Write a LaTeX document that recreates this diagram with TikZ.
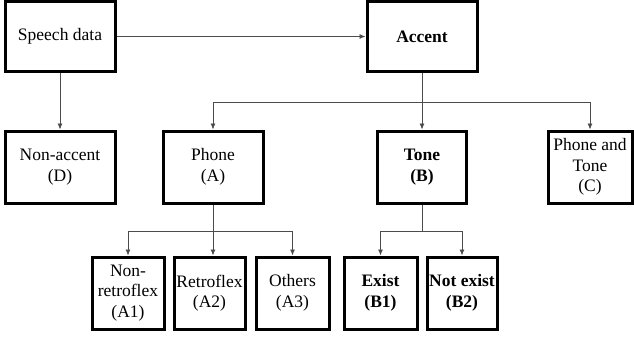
\documentclass[tikz,border=0pt]{standalone}
\usepackage{fontspec}
\setmainfont{Liberation Serif}
\usetikzlibrary{arrows.meta}
\begin{document}
\begin{tikzpicture}[x=1pt,y=-1pt,
 box/.style={draw, line width=3pt, inner sep=0pt, align=center, font=\fontsize{17.5}{20.5}\selectfont, minimum height=70pt},
 conn/.style={draw=black!70, line width=0.8pt},
 arr/.style={conn, -{Latex[length=6pt,width=5pt]}}]
\useasboundingbox[fill=white] (0,0) rectangle (634,338);
\node[box, minimum width=110pt] (sd) at (60,36.5) {Speech data};
\node[box, minimum width=110pt] (acc) at (422,36.5) {\textbf{Accent}};
\node[box, minimum width=110pt, minimum height=72pt] (na) at (60,167) {Non-accent\\(D)};
\node[box, minimum width=100pt, minimum height=72pt] (ph) at (213,167) {Phone\\(A)};
\node[box, minimum width=89pt, minimum height=72pt] (tone) at (422,167) {\textbf{Tone}\\\textbf{(B)}};
\node[box, minimum width=84pt, minimum height=72pt] (pt) at (590,167) {Phone and\\Tone\\(C)};
\node[box, minimum width=72pt, minimum height=72pt] (a1) at (128,293) {Non-\\retroflex\\(A1)};
\node[box, minimum width=71pt, minimum height=72pt] (a2) at (209.5,293) {Retroflex\\(A2)};
\node[box, minimum width=73pt, minimum height=72pt] (a3) at (292.5,293) {Others\\(A3)};
\node[box, minimum width=73pt, minimum height=72pt] (b1) at (380.5,293) {\textbf{Exist}\\\textbf{(B1)}};
\node[box, minimum width=70pt, minimum height=72pt] (b2) at (462,293) {\textbf{Not exist}\\\textbf{(B2)}};
\coordinate (h1) at (0,102);
\coordinate (h2) at (0,231);
\draw[arr] (sd.east) -- (acc.west);
\draw[arr] (sd.south) -- (na.north);
\draw[arr] (acc.south) -- (tone.north);
\draw[arr] (acc.south |- h1) -| (ph.north);
\draw[arr] (acc.south |- h1) -| (pt.north);
\draw[conn] (ph.south) -- (ph.south |- h2);
\draw[arr] (ph.south |- h2) -| (a1.north);
\draw[arr] (ph.south |- h2) -| (a3.north);
\draw[arr] (ph.south |- h2) -- (a2.north -| ph.south);
\draw[conn] (tone.south) -- (tone.south |- h2);
\draw[arr] (tone.south |- h2) -| (b1.north);
\draw[arr] (tone.south |- h2) -| (b2.north);
\end{tikzpicture}
\end{document}
